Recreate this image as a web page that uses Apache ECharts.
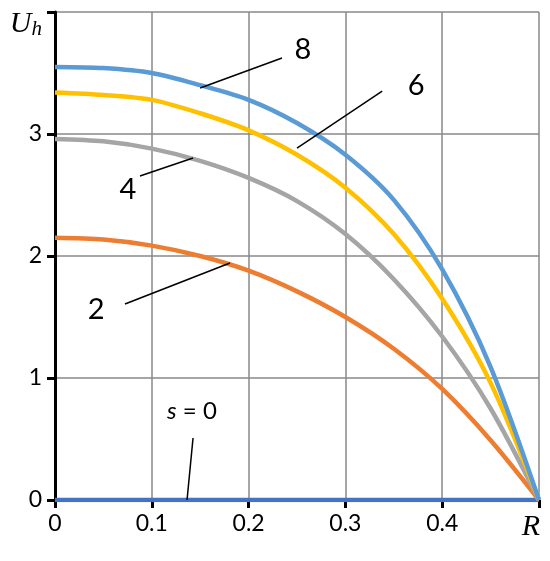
<!DOCTYPE html>
<html><head><meta charset="utf-8">
<script src="https://cdn.jsdelivr.net/npm/echarts@6/dist/echarts.min.js"></script>
<style>html,body{margin:0;padding:0;background:#fff}#c{width:550px;height:561px}</style>
</head><body><div id="c"></div>
<script>
const R = [0, 0.05, 0.1, 0.15, 0.2, 0.25, 0.3, 0.35, 0.4, 0.45, 0.5];
const s0 = [0, 0, 0, 0, 0, 0, 0, 0, 0, 0, 0];
const s2 = [2.15, 2.135, 2.085, 2.0, 1.88, 1.71, 1.50, 1.24, 0.91, 0.49, 0];
const s4 = [2.96, 2.94, 2.88, 2.78, 2.64, 2.45, 2.18, 1.81, 1.34, 0.75, 0];
const s6 = [3.34, 3.32, 3.28, 3.17, 3.03, 2.83, 2.56, 2.18, 1.65, 0.96, 0];
const s8 = [3.55, 3.54, 3.50, 3.40, 3.28, 3.09, 2.83, 2.46, 1.89, 1.09, 0];
const xTicks = ['0', '0.1', '0.2', '0.3', '0.4'];
const yTicks = ['0', '1', '2', '3'];
// annotation labels: text, label position [R,U], leader line [[R,U],[R,U]]
const annText = ['8', '6', '4', '2', 's = 0'];
const annPos = [[0.256, 3.69], [0.373, 3.393], [0.0754, 2.54], [0.0424, 1.557], [0.1415, 0.73]];
const annLine = [
  [[0.150, 3.377], [0.2345, 3.623]],
  [[0.250, 2.885], [0.338, 3.352]],
  [[0.0878, 2.656], [0.1426, 2.803]],
  [[0.0723, 1.607], [0.1808, 1.943]],
  [[0.1426, 0.508], [0.1364, 0]]
];

const FONT = 'Lato';
const colors = {s0: '#4472C4', s2: '#ED7D31', s4: '#A5A5A5', s6: '#FFC000', s8: '#5B9BD5'};
const pair = arr => R.map((r, i) => [r, arr[i]]);
const curve = (name, arr, col) => ({
  name, type: 'line', data: pair(arr), showSymbol: false, symbol: 'none',
  smooth: 0.3,
  lineStyle: {color: col, width: 4.5}, z: 3, animation: false
});

const series = [
  curve('s0', s0, colors.s0),
  curve('s2', s2, colors.s2),
  curve('s4', s4, colors.s4),
  curve('s6', s6, colors.s6),
  curve('s8', s8, colors.s8)
];
annLine.forEach((ln, i) => series.push({
  type: 'line', data: ln, symbol: 'none', lineStyle: {color: '#000', width: 1.5},
  z: 4, animation: false, silent: true
}));
series.push({
  type: 'scatter', symbolSize: 0, z: 5, animation: false, silent: true,
  itemStyle: {opacity: 1},
  data: annPos.map((p, i) => ({value: p, label: {
    show: true, position: 'inside',
    formatter: i === 4 ? '{i|s}{n| = 0}' : '{b|' + annText[i] + '}',
    rich: {
      i: {fontStyle: 'italic', fontSize: 24, fontFamily: FONT, color: '#000'},
      n: {fontSize: 24, fontFamily: FONT, color: '#000'},
      b: {fontSize: 29, fontFamily: FONT, color: '#000'}
    }
  }}))
});

const chart = echarts.init(document.getElementById('c'), null, {renderer: 'canvas'});
chart.setOption({
  backgroundColor: '#fff',
  animation: false,
  grid: {left: 55, right: 11, top: 12, bottom: 61, containLabel: false},
  xAxis: {
    type: 'value', min: 0, max: 0.5, interval: 0.1,
    axisLine: {show: true, onZero: false, lineStyle: {color: '#000', width: 3}},
    axisTick: {show: true, length: 8, lineStyle: {color: '#000', width: 3}},
    splitLine: {show: true, lineStyle: {color: '#888', width: 1.5}},
    axisLabel: {
      margin: 12, fontSize: 23, fontFamily: FONT, color: '#000',
      formatter: v => {
        const i = Math.round(v * 10);
        return i < 5 ? xTicks[i] : '{r|R}';
      },
      rich: {r: {fontFamily: 'Liberation Serif', fontStyle: 'italic', fontSize: 30, color: '#000', padding: [0, 16, 0, 0]}}
    }
  },
  yAxis: {
    type: 'value', min: 0, max: 4, interval: 1,
    axisLine: {show: true, onZero: false, lineStyle: {color: '#000', width: 3}},
    axisTick: {show: true, length: 8, lineStyle: {color: '#000', width: 3}},
    splitLine: {show: true, lineStyle: {color: '#888', width: 1.5}},
    axisLabel: {
      margin: 13, fontSize: 23, fontFamily: FONT, color: '#000',
      formatter: v => v < 4 ? yTicks[v] : '{u|U}{h|h}',
      rich: {
        u: {fontFamily: 'Liberation Serif', fontStyle: 'italic', fontSize: 30, color: '#000', padding: [0, 0, -24, 0]},
        h: {fontFamily: 'Liberation Serif', fontStyle: 'italic', fontSize: 21, color: '#000', padding: [0, 0, -34, 0]}
      }
    }
  },
  series
});
</script></body></html>
